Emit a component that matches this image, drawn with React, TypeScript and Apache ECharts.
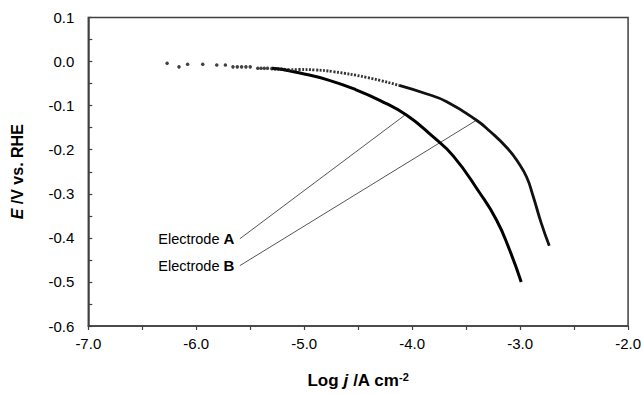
import React, { useEffect, useRef } from "react";
import * as echarts from "echarts";

// Discrete dots at low current density (shared start of both curves)
const startDotsX = [-6.27, -6.16, -6.08, -5.94, -5.81, -5.73, -5.66, -5.62, -5.58, -5.54, -5.50, -5.43, -5.40, -5.37, -5.34, -5.30, -5.27, -5.24, -5.21, -5.18, -5.15];
const startDotsY = [-0.004, -0.012, -0.006, -0.006, -0.008, -0.008, -0.012, -0.012, -0.012, -0.012, -0.012, -0.015, -0.015, -0.015, -0.015, -0.016, -0.017, -0.017, -0.017, -0.018, -0.019];

// Electrode A (inner curve)
const aX = [-5.30, -5.20, -5.04, -4.79, -4.52, -4.30, -4.05, -3.81, -3.62, -3.38, -3.22, -3.10, -2.99];
const aY = [-0.015, -0.018, -0.026, -0.041, -0.064, -0.088, -0.122, -0.170, -0.214, -0.296, -0.359, -0.426, -0.500];

// Electrode B (outer curve) – dotted part then dense part
const bDotX = [-5.15, -5.04, -4.90, -4.73, -4.42, -4.12];
const bDotY = [-0.019, -0.018, -0.019, -0.023, -0.036, -0.054];
const bX = [-4.12, -3.87, -3.68, -3.41, -3.28, -3.12, -3.02, -2.94, -2.88, -2.805, -2.73];
const bY = [-0.054, -0.073, -0.091, -0.132, -0.158, -0.196, -0.228, -0.262, -0.305, -0.366, -0.418];

// Leader lines for labels [start x, start y, end x, end y]
const leaderA = [-5.596, -0.402, -4.07, -0.122];
const leaderB = [-5.596, -0.463, -3.404, -0.133];

const xTickLabels = ["-7.0", "-6.0", "-5.0", "-4.0", "-3.0", "-2.0"];
const yTickLabels = ["-0.6", "-0.5", "-0.4", "-0.3", "-0.2", "-0.1", "0.0", "0.1"];

const zip = (xs: number[], ys: number[]) => xs.map((x, i) => [x, ys[i]]);

export default function App() {
  const ref = useRef<HTMLDivElement>(null);
  useEffect(() => {
    if (!ref.current) return;
    const chart = echarts.init(ref.current, undefined, { renderer: "svg" });
    const axisColor = "#404040";
    const font = "Liberation Sans";
    const leader = (p: number[], letter: string) => ({
      type: "line",
      data: [
        {
          value: [p[0], p[1]],
          label: {
            show: true,
            position: "left",
            distance: 5,
            formatter: "Electrode {b|" + letter + "}",
            color: "#000",
            fontFamily: font,
            fontSize: 14.5,
            rich: { b: { fontWeight: "bold", fontSize: 15, fontFamily: font, color: "#000" } },
          },
        },
        { value: [p[2], p[3]] },
      ],
      symbol: "circle",
      symbolSize: 1,
      showAllSymbol: true,
      itemStyle: { color: "rgba(0,0,0,0)" },
      lineStyle: { color: "#555", width: 1 },
      z: 1,
    });
    chart.setOption({
      animation: false,
      backgroundColor: "#fff",
      grid: {
        left: 88.3,
        right: 15.3,
        top: 17.5,
        bottom: 62.5,
        show: true,
        borderColor: axisColor,
        borderWidth: 1.5,
      },
      xAxis: {
        type: "value",
        min: -7,
        max: -2,
        interval: 0.5,
        name: "Log {i|j} /A cm{s|-2}",
        nameLocation: "middle",
        nameGap: 45,
        nameTextStyle: {
          fontFamily: font,
          fontWeight: "bold",
          fontSize: 17,
          lineHeight: 18,
          color: "#000",
          rich: {
            i: { fontStyle: "italic", fontWeight: "bold", fontSize: 17, lineHeight: 18, fontFamily: font, color: "#000" },
            s: { fontWeight: "bold", fontSize: 11, lineHeight: 11, fontFamily: font, color: "#000", verticalAlign: "top" },
          },
        },
        axisLine: { show: true, onZero: false, lineStyle: { color: axisColor, width: 1.5 } },
        axisTick: { show: true, inside: false, length: 4, lineStyle: { color: axisColor, width: 1.2 } },
        splitLine: { show: false },
        axisLabel: {
          margin: 10,
          fontFamily: font,
          fontSize: 15,
          color: "#000",
          showMinLabel: true,
          showMaxLabel: true,
          formatter: (v: number) => {
            const k = Math.round((v + 7) * 2);
            return k % 2 === 0 ? xTickLabels[k / 2] ?? "" : "";
          },
        },
      },
      yAxis: {
        type: "value",
        min: -0.6,
        max: 0.1,
        interval: 0.05,
        name: "{i|E} /V vs. RHE",
        nameLocation: "middle",
        nameGap: 63,
        nameTextStyle: {
          fontFamily: font,
          fontWeight: "bold",
          fontSize: 16,
          color: "#000",
          rich: {
            i: { fontStyle: "italic", fontWeight: "bold", fontSize: 16, fontFamily: font, color: "#000" },
          },
        },
        axisLine: { show: true, onZero: false, lineStyle: { color: axisColor, width: 1.5 } },
        axisTick: { show: true, inside: true, length: 4, lineStyle: { color: axisColor, width: 1.2 } },
        splitLine: { show: false },
        axisLabel: {
          margin: 14,
          fontFamily: font,
          fontSize: 15,
          color: "#000",
          showMinLabel: true,
          showMaxLabel: true,
          formatter: (v: number) => {
            const k = Math.round((v + 0.6) * 20);
            return k % 2 === 0 ? yTickLabels[k / 2] ?? "" : "";
          },
        },
      },
      series: [
        {
          type: "scatter",
          data: zip(startDotsX, startDotsY),
          symbol: "circle",
          symbolSize: 3.5,
          itemStyle: { color: "#111" },
          z: 3,
        },
        {
          type: "line",
          data: zip(aX, aY),
          smooth: 0.5,
          showSymbol: false,
          lineStyle: { color: "#000", width: 3 },
          z: 3,
        },
        {
          type: "line",
          data: zip(bDotX, bDotY),
          smooth: 0.5,
          showSymbol: false,
          lineStyle: { color: "#333", width: 2.8, type: [2, 1.5] },
          z: 3,
        },
        {
          type: "line",
          data: zip(bX, bY),
          smooth: 0.5,
          showSymbol: false,
          lineStyle: { color: "#111", width: 2.8 },
          z: 3,
        },
        leader(leaderA, "A"),
        leader(leaderB, "B"),
      ],
    });
    return () => chart.dispose();
  }, []);
  return (
    <div
      ref={ref}
      style={{ position: "absolute", left: 0, top: 0, width: 644, height: 394 }}
    />
  );
}
